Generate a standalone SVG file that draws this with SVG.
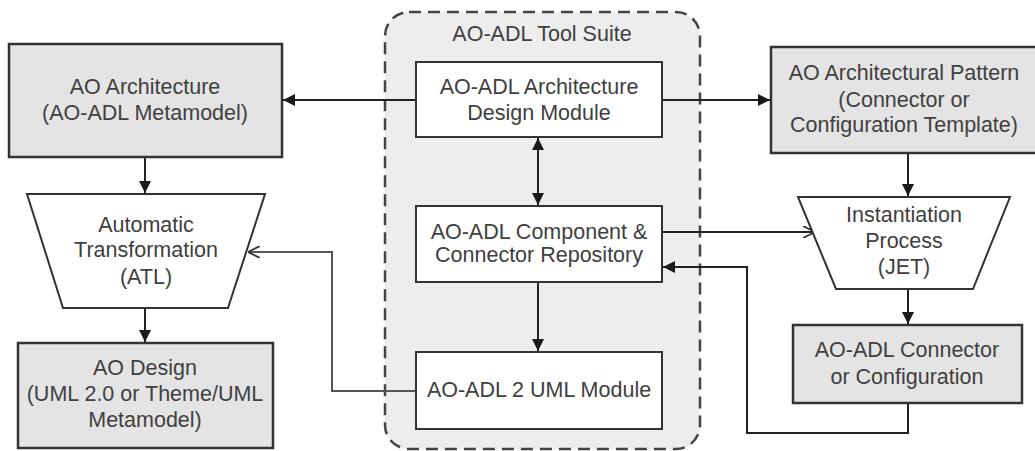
<svg xmlns="http://www.w3.org/2000/svg" width="1035" height="451" viewBox="0 0 1035 451">
<defs>
<marker id="fa" viewBox="0 0 10 10" refX="10" refY="5" markerWidth="12" markerHeight="12" markerUnits="userSpaceOnUse" orient="auto-start-reverse"><path d="M0,0 L10,5 L0,10 z" fill="#1a1a1a"/></marker>
<marker id="oa" viewBox="0 0 10 10" refX="10" refY="5" markerWidth="12" markerHeight="12" markerUnits="userSpaceOnUse" orient="auto"><path d="M0,0 L10,5 L0,10" fill="none" stroke="#333" stroke-width="1.5"/></marker>
</defs>
<style>
text{font-family:"Liberation Sans",Arial,sans-serif;font-size:21.5px;fill:#404040;text-anchor:middle}
.g{fill:#e4e4e4;stroke:#333;stroke-width:2.5}
.w{fill:#fff;stroke:#333;stroke-width:2}
.c{fill:none;stroke:#222;stroke-width:2}
.c2{fill:none;stroke:#555;stroke-width:2}
</style>
<rect width="1035" height="451" fill="#fff"/>
<g id="suite">
<rect x="385" y="12" width="315" height="437" rx="24" fill="#ededed" stroke="#444" stroke-width="2.5" stroke-dasharray="12,7"/>
<text x="542" y="41">AO-ADL Tool Suite</text>
</g>
<g id="connectors">
<path class="c" d="M416,100 H283" marker-end="url(#fa)"/>
<path class="c" d="M662,100 H770" marker-end="url(#fa)"/>
<path class="c" d="M538,138 V205" marker-start="url(#fa)" marker-end="url(#fa)"/>
<path class="c" d="M538,282 V351" marker-end="url(#fa)"/>
<path class="c" d="M145,157 V193" marker-end="url(#fa)"/>
<path class="c" d="M145,308 V342" marker-end="url(#fa)"/>
<path class="c" d="M908,153 V196" marker-end="url(#fa)"/>
<path class="c" d="M908,289 V324" marker-end="url(#fa)"/>
<path class="c2" d="M416,391 H332 V252 H248" marker-end="url(#oa)"/>
<path class="c" d="M662,232 H815" marker-end="url(#oa)"/>
<path class="c" d="M908,403 V433 H747 V267 H663" marker-end="url(#fa)"/>
</g>
<g id="ao-architecture">
<rect class="g" x="9" y="44" width="273" height="113"/>
<text x="145" y="94">AO Architecture</text>
<text x="145" y="120">(AO-ADL Metamodel)</text>
</g>
<g id="atl">
<path class="w" d="M27,194 H265 L228,308 H63 z"/>
<text x="146" y="232">Automatic</text>
<text x="146" y="257">Transformation</text>
<text x="146" y="284">(ATL)</text>
</g>
<g id="ao-design">
<rect class="g" x="18" y="343" width="255" height="105"/>
<text x="145" y="375">AO Design</text>
<text x="145" y="401">(UML 2.0 or Theme/UML</text>
<text x="145" y="427">Metamodel)</text>
</g>
<g id="arch-design-module">
<rect class="w" x="416" y="62" width="246" height="75"/>
<text x="539" y="94">AO-ADL Architecture</text>
<text x="539" y="120">Design Module</text>
</g>
<g id="repository">
<rect class="w" x="416" y="206" width="246" height="76"/>
<text x="539" y="239">AO-ADL Component &amp;</text>
<text x="539" y="262">Connector Repository</text>
</g>
<g id="uml-module">
<rect class="w" x="416" y="352" width="246" height="77"/>
<text x="539" y="397">AO-ADL 2 UML Module</text>
</g>
<g id="arch-pattern">
<rect class="g" x="771" y="47" width="270" height="106"/>
<text x="904" y="80">AO Architectural Pattern</text>
<text x="904" y="107">(Connector or</text>
<text x="904" y="132">Configuration Template)</text>
</g>
<g id="jet">
<path class="w" d="M798,197 H1010 L973,289 H836 z"/>
<text x="904" y="222">Instantiation</text>
<text x="904" y="248">Process</text>
<text x="904" y="274">(JET)</text>
</g>
<g id="connector-config">
<rect class="g" x="793" y="325" width="229" height="78"/>
<text x="907" y="357">AO-ADL Connector</text>
<text x="907" y="384">or Configuration</text>
</g>
</svg>
